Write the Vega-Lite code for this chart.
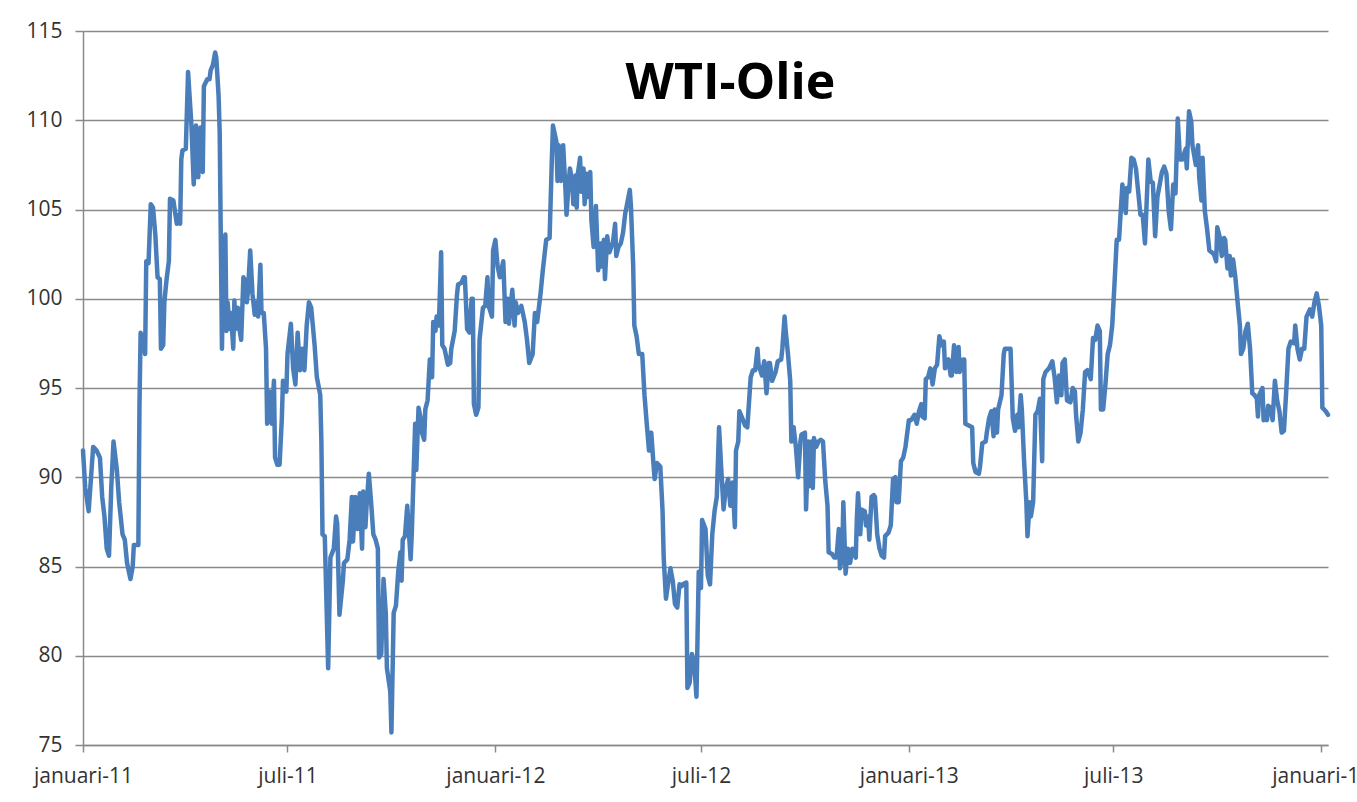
{
  "$schema": "https://vega.github.io/schema/vega-lite/v6.json",
  "width": 1245,
  "height": 714,
  "autosize": {"type": "none"},
  "padding": {"left": 83, "top": 31, "right": 29, "bottom": 57},
  "background": "white",
  "title": {"text": "WTI-Olie", "font": "Open Sans", "fontSize": 50, "fontWeight": "bold", "color": "#000000", "anchor": "middle", "baseline": "alphabetic", "offset": -129, "dx": 25},
  "config": {
    "view": {"stroke": null},
    "axis": {"labelFont": "Open Sans", "labelFontSize": 21, "labelColor": "#333333", "domainColor": "#8a8a8a", "domainWidth": 1.5, "tickColor": "#8a8a8a", "tickWidth": 1.5, "gridColor": "#8a8a8a", "gridWidth": 1.5, "title": null}
  },
  "data": {"values": [
    {"date":"2011-01-01","price":91.5},{"date":"2011-01-03","price":89.4},{"date":"2011-01-06","price":88.1},{"date":"2011-01-10","price":91.7},{"date":"2011-01-13","price":91.5},{"date":"2011-01-16","price":91.1},{"date":"2011-01-18","price":88.9},{"date":"2011-01-20","price":87.8},{"date":"2011-01-22","price":86.0},{"date":"2011-01-24","price":85.6},{"date":"2011-01-26","price":89.4},{"date":"2011-01-28","price":92.0},{"date":"2011-01-31","price":90.4},
    {"date":"2011-02-02","price":88.6},{"date":"2011-02-05","price":86.8},{"date":"2011-02-07","price":86.5},{"date":"2011-02-09","price":85.2},{"date":"2011-02-12","price":84.3},{"date":"2011-02-14","price":85.0},{"date":"2011-02-15","price":86.2},{"date":"2011-02-19","price":86.2},{"date":"2011-02-20","price":94.1},{"date":"2011-02-21","price":98.1},{"date":"2011-02-23","price":97.7},{"date":"2011-02-25","price":96.9},{"date":"2011-02-26","price":102.1},{"date":"2011-02-28","price":102.0},
    {"date":"2011-03-02","price":105.3},{"date":"2011-03-04","price":105.1},{"date":"2011-03-06","price":103.6},{"date":"2011-03-08","price":101.2},{"date":"2011-03-10","price":101.1},{"date":"2011-03-11","price":97.2},{"date":"2011-03-13","price":97.4},{"date":"2011-03-14","price":99.8},{"date":"2011-03-16","price":101.1},{"date":"2011-03-18","price":102.1},{"date":"2011-03-19","price":105.6},{"date":"2011-03-22","price":105.5},{"date":"2011-03-25","price":104.2},{"date":"2011-03-27","price":104.7},{"date":"2011-03-28","price":104.2},{"date":"2011-03-29","price":107.8},{"date":"2011-03-30","price":108.3},
    {"date":"2011-04-02","price":108.4},{"date":"2011-04-04","price":112.7},{"date":"2011-04-07","price":109.7},{"date":"2011-04-09","price":106.4},{"date":"2011-04-11","price":109.7},{"date":"2011-04-13","price":106.8},{"date":"2011-04-15","price":109.6},{"date":"2011-04-17","price":107.1},{"date":"2011-04-18","price":111.9},{"date":"2011-04-21","price":112.3},{"date":"2011-04-23","price":112.3},{"date":"2011-04-24","price":112.8},{"date":"2011-04-26","price":113.1},{"date":"2011-04-28","price":113.8},{"date":"2011-04-29","price":113.5},
    {"date":"2011-05-01","price":111.4},{"date":"2011-05-02","price":109.3},{"date":"2011-05-04","price":97.2},{"date":"2011-05-05","price":101.2},{"date":"2011-05-07","price":103.6},{"date":"2011-05-08","price":98.2},{"date":"2011-05-09","price":99.8},{"date":"2011-05-11","price":98.3},{"date":"2011-05-12","price":99.2},{"date":"2011-05-14","price":97.2},{"date":"2011-05-15","price":99.9},{"date":"2011-05-16","price":98.3},{"date":"2011-05-18","price":99.5},{"date":"2011-05-19","price":98.5},{"date":"2011-05-21","price":97.7},{"date":"2011-05-23","price":101.2},{"date":"2011-05-24","price":101.1},{"date":"2011-05-26","price":99.8},{"date":"2011-05-27","price":100.4},{"date":"2011-05-29","price":102.7},{"date":"2011-05-31","price":100.3},
    {"date":"2011-06-02","price":99.1},{"date":"2011-06-04","price":99.8},{"date":"2011-06-05","price":99.0},{"date":"2011-06-07","price":101.9},{"date":"2011-06-08","price":99.2},{"date":"2011-06-10","price":99.2},{"date":"2011-06-12","price":97.2},{"date":"2011-06-13","price":93.0},{"date":"2011-06-15","price":94.8},{"date":"2011-06-17","price":93.0},{"date":"2011-06-19","price":95.4},{"date":"2011-06-20","price":91.1},{"date":"2011-06-22","price":90.7},{"date":"2011-06-24","price":90.7},{"date":"2011-06-26","price":93.3},{"date":"2011-06-27","price":95.4},{"date":"2011-06-30","price":94.8},
    {"date":"2011-07-01","price":96.9},{"date":"2011-07-04","price":98.6},{"date":"2011-07-06","price":96.1},{"date":"2011-07-08","price":95.2},{"date":"2011-07-10","price":98.1},{"date":"2011-07-12","price":96.0},{"date":"2011-07-14","price":97.2},{"date":"2011-07-16","price":96.0},{"date":"2011-07-18","price":98.5},{"date":"2011-07-20","price":99.8},{"date":"2011-07-22","price":99.5},{"date":"2011-07-25","price":97.4},{"date":"2011-07-27","price":95.6},{"date":"2011-07-30","price":94.6},{"date":"2011-07-31","price":92.0},
    {"date":"2011-08-01","price":86.8},{"date":"2011-08-03","price":86.7},{"date":"2011-08-06","price":79.3},{"date":"2011-08-08","price":85.5},{"date":"2011-08-11","price":86.0},{"date":"2011-08-13","price":87.8},{"date":"2011-08-14","price":87.4},{"date":"2011-08-16","price":82.3},{"date":"2011-08-19","price":84.2},{"date":"2011-08-20","price":85.2},{"date":"2011-08-23","price":85.4},{"date":"2011-08-25","price":86.5},{"date":"2011-08-27","price":88.9},{"date":"2011-08-28","price":86.4},{"date":"2011-08-30","price":88.9},
    {"date":"2011-09-01","price":87.1},{"date":"2011-09-03","price":89.1},{"date":"2011-09-05","price":86.0},{"date":"2011-09-06","price":89.2},{"date":"2011-09-08","price":87.2},{"date":"2011-09-09","price":88.4},{"date":"2011-09-11","price":90.2},{"date":"2011-09-13","price":88.6},{"date":"2011-09-15","price":86.8},{"date":"2011-09-17","price":86.5},{"date":"2011-09-19","price":86.0},{"date":"2011-09-20","price":79.9},{"date":"2011-09-22","price":80.1},{"date":"2011-09-24","price":84.3},{"date":"2011-09-26","price":82.4},{"date":"2011-09-27","price":79.3},{"date":"2011-09-30","price":78.0},
    {"date":"2011-10-01","price":75.7},{"date":"2011-10-03","price":82.4},{"date":"2011-10-05","price":82.8},{"date":"2011-10-07","price":84.7},{"date":"2011-10-09","price":85.8},{"date":"2011-10-10","price":84.2},{"date":"2011-10-11","price":86.5},{"date":"2011-10-13","price":86.7},{"date":"2011-10-15","price":88.4},{"date":"2011-10-18","price":85.4},{"date":"2011-10-19","price":86.8},{"date":"2011-10-22","price":93.0},{"date":"2011-10-23","price":90.4},{"date":"2011-10-25","price":93.9},{"date":"2011-10-27","price":93.3},{"date":"2011-10-28","price":92.5},{"date":"2011-10-30","price":92.1},{"date":"2011-10-31","price":93.8},
    {"date":"2011-11-02","price":94.3},{"date":"2011-11-04","price":96.6},{"date":"2011-11-06","price":95.6},{"date":"2011-11-07","price":98.7},{"date":"2011-11-09","price":98.2},{"date":"2011-11-10","price":99.0},{"date":"2011-11-12","price":98.5},{"date":"2011-11-14","price":102.6},{"date":"2011-11-15","price":97.4},{"date":"2011-11-17","price":97.2},{"date":"2011-11-20","price":96.3},{"date":"2011-11-22","price":96.4},{"date":"2011-11-23","price":97.2},{"date":"2011-11-26","price":98.2},{"date":"2011-11-28","price":100.2},{"date":"2011-11-29","price":100.8},
    {"date":"2011-12-02","price":100.9},{"date":"2011-12-04","price":101.2},{"date":"2011-12-05","price":101.2},{"date":"2011-12-07","price":98.3},{"date":"2011-12-09","price":98.1},{"date":"2011-12-11","price":100.0},{"date":"2011-12-12","price":100.0},{"date":"2011-12-13","price":94.1},{"date":"2011-12-15","price":93.5},{"date":"2011-12-17","price":93.9},{"date":"2011-12-18","price":97.7},{"date":"2011-12-21","price":99.5},{"date":"2011-12-23","price":99.6},{"date":"2011-12-25","price":101.2},{"date":"2011-12-26","price":99.6},{"date":"2011-12-29","price":99.0},{"date":"2011-12-30","price":102.7},
    {"date":"2012-01-01","price":103.3},{"date":"2012-01-03","price":101.8},{"date":"2012-01-05","price":101.2},{"date":"2012-01-08","price":102.1},{"date":"2012-01-10","price":98.7},{"date":"2012-01-12","price":100.0},{"date":"2012-01-13","price":98.6},{"date":"2012-01-16","price":100.5},{"date":"2012-01-18","price":98.5},{"date":"2012-01-19","price":99.8},{"date":"2012-01-21","price":99.2},{"date":"2012-01-24","price":99.6},{"date":"2012-01-27","price":98.7},{"date":"2012-01-29","price":97.7},{"date":"2012-01-31","price":96.4},
    {"date":"2012-02-03","price":96.9},{"date":"2012-02-05","price":99.2},{"date":"2012-02-07","price":98.7},{"date":"2012-02-10","price":100.3},{"date":"2012-02-12","price":101.6},{"date":"2012-02-15","price":103.3},{"date":"2012-02-18","price":103.4},{"date":"2012-02-20","price":107.8},{"date":"2012-02-21","price":109.7},{"date":"2012-02-24","price":108.8},{"date":"2012-02-25","price":106.6},{"date":"2012-02-26","price":108.6},{"date":"2012-02-28","price":106.6},
    {"date":"2012-03-01","price":108.6},{"date":"2012-03-03","price":106.2},{"date":"2012-03-04","price":104.7},{"date":"2012-03-06","price":106.6},{"date":"2012-03-07","price":107.3},{"date":"2012-03-09","price":106.6},{"date":"2012-03-10","price":105.3},{"date":"2012-03-12","price":106.9},{"date":"2012-03-13","price":105.1},{"date":"2012-03-14","price":107.0},{"date":"2012-03-16","price":107.9},{"date":"2012-03-17","price":106.0},{"date":"2012-03-19","price":107.3},{"date":"2012-03-20","price":105.3},{"date":"2012-03-22","price":107.0},{"date":"2012-03-23","price":105.7},{"date":"2012-03-25","price":107.1},{"date":"2012-03-26","price":104.4},{"date":"2012-03-28","price":102.9},{"date":"2012-03-30","price":105.2},
    {"date":"2012-04-01","price":101.6},{"date":"2012-04-03","price":103.1},{"date":"2012-04-04","price":101.8},{"date":"2012-04-06","price":103.3},{"date":"2012-04-07","price":101.1},{"date":"2012-04-09","price":103.5},{"date":"2012-04-11","price":102.6},{"date":"2012-04-13","price":103.0},{"date":"2012-04-14","price":103.1},{"date":"2012-04-16","price":104.2},{"date":"2012-04-17","price":102.4},{"date":"2012-04-19","price":102.9},{"date":"2012-04-21","price":103.1},{"date":"2012-04-23","price":103.7},{"date":"2012-04-25","price":104.8},{"date":"2012-04-26","price":105.1},{"date":"2012-04-29","price":106.1},{"date":"2012-04-30","price":105.2},
    {"date":"2012-05-02","price":101.8},{"date":"2012-05-03","price":98.5},{"date":"2012-05-05","price":97.9},{"date":"2012-05-07","price":96.9},{"date":"2012-05-10","price":96.9},{"date":"2012-05-12","price":94.6},{"date":"2012-05-14","price":93.0},{"date":"2012-05-16","price":91.5},{"date":"2012-05-18","price":92.5},{"date":"2012-05-20","price":90.7},{"date":"2012-05-21","price":89.9},{"date":"2012-05-23","price":90.8},{"date":"2012-05-26","price":90.6},{"date":"2012-05-28","price":88.1},{"date":"2012-05-29","price":85.5},{"date":"2012-05-31","price":83.2},
    {"date":"2012-06-02","price":84.1},{"date":"2012-06-04","price":84.9},{"date":"2012-06-06","price":84.2},{"date":"2012-06-08","price":82.9},{"date":"2012-06-10","price":82.7},{"date":"2012-06-12","price":84.0},{"date":"2012-06-14","price":83.9},{"date":"2012-06-15","price":84.0},{"date":"2012-06-18","price":84.1},{"date":"2012-06-19","price":78.2},{"date":"2012-06-21","price":78.5},{"date":"2012-06-23","price":80.1},{"date":"2012-06-25","price":79.6},{"date":"2012-06-27","price":77.7},{"date":"2012-06-29","price":84.7},
    {"date":"2012-07-01","price":83.8},{"date":"2012-07-02","price":87.6},{"date":"2012-07-05","price":87.1},{"date":"2012-07-07","price":84.5},{"date":"2012-07-09","price":84.0},{"date":"2012-07-11","price":86.8},{"date":"2012-07-13","price":88.1},{"date":"2012-07-15","price":88.9},{"date":"2012-07-17","price":92.8},{"date":"2012-07-19","price":90.4},{"date":"2012-07-21","price":88.2},{"date":"2012-07-23","price":89.4},{"date":"2012-07-25","price":89.9},{"date":"2012-07-27","price":88.4},{"date":"2012-07-29","price":89.7},{"date":"2012-07-31","price":87.2},
    {"date":"2012-08-01","price":91.5},{"date":"2012-08-03","price":92.0},{"date":"2012-08-04","price":93.7},{"date":"2012-08-06","price":93.4},{"date":"2012-08-09","price":92.9},{"date":"2012-08-11","price":92.8},{"date":"2012-08-14","price":95.6},{"date":"2012-08-16","price":96.0},{"date":"2012-08-18","price":96.0},{"date":"2012-08-20","price":97.2},{"date":"2012-08-21","price":96.3},{"date":"2012-08-24","price":95.7},{"date":"2012-08-26","price":96.5},{"date":"2012-08-28","price":94.7},{"date":"2012-08-30","price":96.4},{"date":"2012-08-31","price":96.4},
    {"date":"2012-09-02","price":95.4},{"date":"2012-09-05","price":95.9},{"date":"2012-09-07","price":96.5},{"date":"2012-09-10","price":96.6},{"date":"2012-09-11","price":97.2},{"date":"2012-09-13","price":99.0},{"date":"2012-09-14","price":98.2},{"date":"2012-09-16","price":96.9},{"date":"2012-09-18","price":95.4},{"date":"2012-09-19","price":92.0},{"date":"2012-09-21","price":92.8},{"date":"2012-09-23","price":91.7},{"date":"2012-09-25","price":90.0},{"date":"2012-09-27","price":92.0},{"date":"2012-09-28","price":92.4},
    {"date":"2012-10-01","price":92.5},{"date":"2012-10-02","price":88.2},{"date":"2012-10-04","price":92.0},{"date":"2012-10-05","price":89.5},{"date":"2012-10-07","price":92.0},{"date":"2012-10-08","price":89.4},{"date":"2012-10-09","price":92.2},{"date":"2012-10-11","price":91.7},{"date":"2012-10-13","price":92.0},{"date":"2012-10-15","price":92.1},{"date":"2012-10-17","price":92.0},{"date":"2012-10-19","price":89.8},{"date":"2012-10-21","price":88.4},{"date":"2012-10-22","price":85.8},{"date":"2012-10-25","price":85.7},{"date":"2012-10-27","price":85.5},{"date":"2012-10-29","price":85.5},{"date":"2012-10-31","price":87.1},
    {"date":"2012-11-01","price":84.9},{"date":"2012-11-03","price":85.5},{"date":"2012-11-04","price":88.6},{"date":"2012-11-06","price":84.6},{"date":"2012-11-08","price":86.0},{"date":"2012-11-10","price":85.2},{"date":"2012-11-12","price":86.0},{"date":"2012-11-15","price":85.5},{"date":"2012-11-16","price":87.7},{"date":"2012-11-17","price":89.1},{"date":"2012-11-19","price":86.8},{"date":"2012-11-20","price":88.2},{"date":"2012-11-23","price":88.1},{"date":"2012-11-24","price":87.3},{"date":"2012-11-26","price":87.8},{"date":"2012-11-27","price":86.5},{"date":"2012-11-29","price":88.9},
    {"date":"2012-12-01","price":89.0},{"date":"2012-12-02","price":88.9},{"date":"2012-12-04","price":86.8},{"date":"2012-12-06","price":86.0},{"date":"2012-12-08","price":85.6},{"date":"2012-12-10","price":85.5},{"date":"2012-12-11","price":86.7},{"date":"2012-12-14","price":86.9},{"date":"2012-12-16","price":87.3},{"date":"2012-12-18","price":89.9},{"date":"2012-12-20","price":90.0},{"date":"2012-12-21","price":88.6},{"date":"2012-12-23","price":88.6},{"date":"2012-12-25","price":90.9},{"date":"2012-12-27","price":91.1},{"date":"2012-12-29","price":91.7},
    {"date":"2013-01-01","price":93.2},{"date":"2013-01-03","price":93.2},{"date":"2013-01-06","price":93.5},{"date":"2013-01-08","price":93.0},{"date":"2013-01-10","price":93.7},{"date":"2013-01-12","price":94.1},{"date":"2013-01-13","price":93.4},{"date":"2013-01-15","price":93.3},{"date":"2013-01-16","price":95.5},{"date":"2013-01-18","price":95.6},{"date":"2013-01-20","price":96.1},{"date":"2013-01-22","price":95.2},{"date":"2013-01-24","price":96.1},{"date":"2013-01-26","price":96.3},{"date":"2013-01-28","price":97.9},{"date":"2013-01-30","price":97.4},
    {"date":"2013-02-01","price":97.6},{"date":"2013-02-02","price":96.1},{"date":"2013-02-05","price":96.6},{"date":"2013-02-07","price":95.7},{"date":"2013-02-08","price":95.7},{"date":"2013-02-10","price":97.4},{"date":"2013-02-12","price":95.9},{"date":"2013-02-14","price":97.3},{"date":"2013-02-15","price":95.9},{"date":"2013-02-18","price":96.6},{"date":"2013-02-19","price":96.6},{"date":"2013-02-20","price":93.0},{"date":"2013-02-23","price":92.9},{"date":"2013-02-26","price":92.8},{"date":"2013-02-27","price":90.8},
    {"date":"2013-03-01","price":90.3},{"date":"2013-03-04","price":90.2},{"date":"2013-03-05","price":90.6},{"date":"2013-03-07","price":91.9},{"date":"2013-03-10","price":92.0},{"date":"2013-03-11","price":92.5},{"date":"2013-03-13","price":93.3},{"date":"2013-03-15","price":93.7},{"date":"2013-03-17","price":92.3},{"date":"2013-03-18","price":93.8},{"date":"2013-03-20","price":92.5},{"date":"2013-03-21","price":93.8},{"date":"2013-03-24","price":94.6},{"date":"2013-03-26","price":96.9},{"date":"2013-03-27","price":97.2},{"date":"2013-03-30","price":97.2},
    {"date":"2013-04-01","price":97.2},{"date":"2013-04-03","price":93.3},{"date":"2013-04-05","price":92.6},{"date":"2013-04-07","price":93.5},{"date":"2013-04-08","price":92.8},{"date":"2013-04-10","price":94.6},{"date":"2013-04-11","price":93.8},{"date":"2013-04-13","price":90.9},{"date":"2013-04-15","price":88.6},{"date":"2013-04-16","price":86.7},{"date":"2013-04-18","price":88.6},{"date":"2013-04-19","price":87.8},{"date":"2013-04-21","price":88.6},{"date":"2013-04-23","price":93.5},{"date":"2013-04-25","price":93.7},{"date":"2013-04-27","price":94.4},{"date":"2013-04-29","price":90.9},{"date":"2013-04-30","price":95.5},
    {"date":"2013-05-02","price":95.9},{"date":"2013-05-05","price":96.1},{"date":"2013-05-08","price":96.5},{"date":"2013-05-10","price":95.6},{"date":"2013-05-12","price":94.2},{"date":"2013-05-14","price":95.7},{"date":"2013-05-16","price":94.6},{"date":"2013-05-17","price":96.4},{"date":"2013-05-19","price":96.6},{"date":"2013-05-21","price":94.3},{"date":"2013-05-24","price":94.2},{"date":"2013-05-26","price":95.0},{"date":"2013-05-28","price":94.8},{"date":"2013-05-29","price":93.5},{"date":"2013-05-31","price":92.0},
    {"date":"2013-06-02","price":92.5},{"date":"2013-06-04","price":93.8},{"date":"2013-06-06","price":95.9},{"date":"2013-06-08","price":96.0},{"date":"2013-06-11","price":95.5},{"date":"2013-06-13","price":97.8},{"date":"2013-06-15","price":97.7},{"date":"2013-06-17","price":98.5},{"date":"2013-06-19","price":98.2},{"date":"2013-06-20","price":93.8},{"date":"2013-06-22","price":93.8},{"date":"2013-06-24","price":95.2},{"date":"2013-06-26","price":96.9},{"date":"2013-06-28","price":97.4},{"date":"2013-06-30","price":98.5},
    {"date":"2013-07-02","price":100.8},{"date":"2013-07-04","price":103.3},{"date":"2013-07-06","price":103.3},{"date":"2013-07-09","price":106.4},{"date":"2013-07-12","price":104.8},{"date":"2013-07-13","price":106.2},{"date":"2013-07-15","price":106.0},{"date":"2013-07-17","price":107.9},{"date":"2013-07-19","price":107.8},{"date":"2013-07-21","price":107.3},{"date":"2013-07-23","price":106.0},{"date":"2013-07-25","price":104.7},{"date":"2013-07-27","price":104.7},{"date":"2013-07-29","price":103.1},{"date":"2013-07-31","price":106.2},
    {"date":"2013-08-01","price":107.8},{"date":"2013-08-03","price":106.6},{"date":"2013-08-05","price":106.5},{"date":"2013-08-07","price":103.5},{"date":"2013-08-09","price":105.7},{"date":"2013-08-11","price":106.4},{"date":"2013-08-13","price":107.1},{"date":"2013-08-15","price":107.4},{"date":"2013-08-17","price":107.0},{"date":"2013-08-19","price":104.9},{"date":"2013-08-21","price":103.9},{"date":"2013-08-23","price":106.4},{"date":"2013-08-25","price":105.9},{"date":"2013-08-27","price":110.1},{"date":"2013-08-29","price":107.8},{"date":"2013-08-31","price":107.8},
    {"date":"2013-09-03","price":108.4},{"date":"2013-09-04","price":107.3},{"date":"2013-09-06","price":110.5},{"date":"2013-09-08","price":109.9},{"date":"2013-09-09","price":108.6},{"date":"2013-09-12","price":107.5},{"date":"2013-09-14","price":108.6},{"date":"2013-09-15","price":106.8},{"date":"2013-09-17","price":105.5},{"date":"2013-09-18","price":107.9},{"date":"2013-09-20","price":104.9},{"date":"2013-09-22","price":103.9},{"date":"2013-09-24","price":102.7},{"date":"2013-09-26","price":102.6},{"date":"2013-09-28","price":102.5},{"date":"2013-09-30","price":102.1},
    {"date":"2013-10-01","price":104.0},{"date":"2013-10-03","price":103.5},{"date":"2013-10-05","price":102.4},{"date":"2013-10-07","price":103.4},{"date":"2013-10-08","price":103.3},{"date":"2013-10-10","price":101.7},{"date":"2013-10-12","price":102.4},{"date":"2013-10-13","price":101.3},{"date":"2013-10-15","price":102.2},{"date":"2013-10-17","price":101.2},{"date":"2013-10-19","price":99.8},{"date":"2013-10-21","price":98.5},{"date":"2013-10-22","price":96.9},{"date":"2013-10-24","price":97.2},{"date":"2013-10-26","price":98.2},{"date":"2013-10-28","price":98.6},{"date":"2013-10-30","price":97.2},
    {"date":"2013-11-01","price":94.7},{"date":"2013-11-03","price":94.6},{"date":"2013-11-05","price":94.4},{"date":"2013-11-06","price":93.4},{"date":"2013-11-07","price":94.6},{"date":"2013-11-10","price":95.0},{"date":"2013-11-11","price":93.2},{"date":"2013-11-12","price":93.7},{"date":"2013-11-14","price":93.2},{"date":"2013-11-15","price":94.0},{"date":"2013-11-17","price":93.9},{"date":"2013-11-19","price":93.2},{"date":"2013-11-21","price":95.4},{"date":"2013-11-23","price":94.3},{"date":"2013-11-25","price":93.7},{"date":"2013-11-27","price":92.5},{"date":"2013-11-29","price":92.6},
    {"date":"2013-12-01","price":94.8},{"date":"2013-12-03","price":97.2},{"date":"2013-12-05","price":97.6},{"date":"2013-12-08","price":97.5},{"date":"2013-12-09","price":98.5},{"date":"2013-12-11","price":97.2},{"date":"2013-12-13","price":96.6},{"date":"2013-12-15","price":97.2},{"date":"2013-12-17","price":97.2},{"date":"2013-12-19","price":99.0},{"date":"2013-12-22","price":99.4},{"date":"2013-12-24","price":99.0},{"date":"2013-12-26","price":99.8},{"date":"2013-12-28","price":100.3},{"date":"2013-12-30","price":99.6},
    {"date":"2014-01-01","price":98.5},{"date":"2014-01-02","price":93.9},{"date":"2014-01-05","price":93.7},{"date":"2014-01-07","price":93.5}
  ]},
  "mark": {"type": "line", "color": "#4a7ebb", "strokeWidth": 4.5, "strokeJoin": "round", "strokeCap": "round"},
  "encoding": {
    "x": {
      "field": "date", "type": "temporal",
      "scale": {"domain": [{"year": 2011, "month": 1, "date": 1}, {"year": 2014, "month": 1, "date": 7}]},
      "axis": {
        "values": [{"year": 2011, "month": 1, "date": 1}, {"year": 2011, "month": 7, "date": 1}, {"year": 2012, "month": 1, "date": 1}, {"year": 2012, "month": 7, "date": 1}, {"year": 2013, "month": 1, "date": 1}, {"year": 2013, "month": 7, "date": 1}, {"year": 2014, "month": 1, "date": 1}],
        "labelExpr": "(month(datum.value) == 0 ? 'januari-' : 'juli-') + timeFormat(datum.value, '%y')",
        "grid": false, "tickSize": 7, "labelPadding": 13, "labelOverlap": false, "labelFlush": false, "labelBound": false
      }
    },
    "y": {
      "field": "price", "type": "quantitative",
      "scale": {"domain": [75, 115], "nice": false, "zero": false},
      "axis": {"values": [75, 80, 85, 90, 95, 100, 105, 110, 115], "tickSize": 8, "labelPadding": 13, "grid": true}
    }
  }
}
